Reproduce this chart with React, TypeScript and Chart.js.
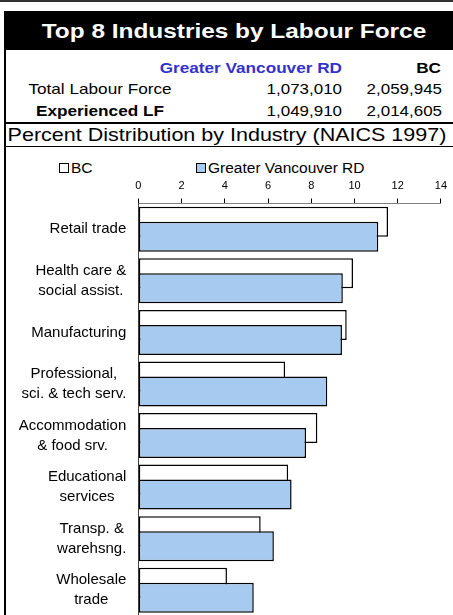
import React, { useEffect, useRef } from 'react';
import { Chart, registerables } from 'chart.js';

Chart.register(...registerables);

const FONT = '"Liberation Sans", Arial, Helvetica, sans-serif';

const titleText = 'Top 8 Industries by Labour Force';
const regionName = 'Greater Vancouver RD';
const provinceName = 'BC';
const rowLabels = ['Total Labour Force', 'Experienced LF'];
const rowBold = [false, true];
const regionTotals = ['1,073,010', '1,049,910'];
const provinceTotals = ['2,059,945', '2,014,605'];
const subtitleText = 'Percent Distribution by Industry (NAICS 1997)';

const categories: string[][] = [
  ['Retail trade'],
  ['Health care &', 'social assist.'],
  ['Manufacturing'],
  ['Professional,', 'sci. & tech serv.'],
  ['Accommodation', '& food srv.'],
  ['Educational', 'services'],
  ['Transp. &', 'warehsng.'],
  ['Wholesale', 'trade'],
];
const bcValues = [11.55, 9.93, 9.64, 6.79, 8.28, 6.93, 5.66, 4.1];
const gvValues = [11.1, 9.46, 9.42, 8.74, 7.76, 7.09, 6.27, 5.34];
const xMin = 0;
const xMax = 14;
const xStep = 2;

const BLUE = '#A6CAF0';

type TxtProps = {
  x: number;
  y: number;
  align: 'left' | 'center' | 'right';
  size: number;
  bold?: boolean;
  color?: string;
  sx?: number;
  children: React.ReactNode;
};

function Txt({ x, y, align, size, bold, color, sx = 1, children }: TxtProps) {
  const W = 600;
  const lh = Math.round(size * 1.4);
  let left = x;
  if (align === 'center') left = x - W / 2;
  if (align === 'right') left = x - W;
  return (
    <div
      style={{
        position: 'absolute',
        left,
        top: y - lh / 2,
        width: W,
        height: lh,
        lineHeight: lh + 'px',
        fontSize: size,
        fontWeight: bold ? 'bold' : 'normal',
        color: color || '#000',
        textAlign: align,
        whiteSpace: 'nowrap',
        transform: `scaleX(${sx})`,
        transformOrigin: align === 'center' ? 'center center' : align === 'right' ? 'right center' : 'left center',
      }}
    >
      {children}
    </div>
  );
}

const drawOrderPlugin = {
  id: 'drawOrder',
  beforeDatasetsDraw(chart: any) {
    const metas = chart.getSortedVisibleDatasetMetas();
    for (const m of metas) m.controller.draw();
    return false;
  },
};

const categoryLabelPlugin = {
  id: 'categoryLabels',
  afterDraw(chart: any) {
    const ctx = chart.ctx;
    const yScale = chart.scales.y;
    const left = chart.chartArea.left;
    ctx.save();
    ctx.font = `15px ${FONT}`;
    ctx.fillStyle = '#000';
    ctx.textBaseline = 'middle';
    ctx.textAlign = 'center';
    const lh = 20;
    (chart.data.labels as any[]).forEach((lab, i) => {
      const lines: string[] = Array.isArray(lab) ? lab : [lab];
      const w = Math.max(...lines.map((l) => ctx.measureText(l).width));
      const cx = left - 12 - w / 2;
      const cy = yScale.getPixelForValue(i);
      lines.forEach((l, j) => {
        ctx.fillText(l, cx, cy + (j - (lines.length - 1) / 2) * lh);
      });
    });
    ctx.restore();
  },
};

export default function App() {
  const canvasRef = useRef<HTMLCanvasElement | null>(null);

  useEffect(() => {
    if (!canvasRef.current) return;
    const chart = new Chart(canvasRef.current, {
      type: 'bar',
      data: {
        labels: categories,
        datasets: [
          {
            label: provinceName,
            data: bcValues,
            backgroundColor: '#FFFFFF',
            borderColor: '#000000',
            borderWidth: 1.5,
            borderSkipped: false,
            categoryPercentage: 0.582,
            barPercentage: 2,
          },
          {
            label: regionName,
            data: gvValues,
            backgroundColor: BLUE,
            borderColor: '#000000',
            borderWidth: 1.5,
            borderSkipped: false,
            categoryPercentage: 0.582,
            barPercentage: 2,
          },
        ],
      },
      options: {
        indexAxis: 'y',
        animation: false,
        responsive: false,
        maintainAspectRatio: false,
        layout: { padding: { left: 132.3, right: 9, top: 25.5, bottom: 4 } },
        plugins: {
          legend: { display: false },
          tooltip: { enabled: false },
        },
        scales: {
          x: {
            type: 'linear',
            position: 'top',
            min: xMin,
            max: xMax,
            ticks: {
              stepSize: xStep,
              padding: 5.9,
              color: '#000',
              font: { family: FONT, size: 11 },
            },
            grid: {
              drawOnChartArea: false,
              drawTicks: true,
              tickLength: 5,
              color: '#000',
            },
            border: { display: true, color: '#808080', width: 1 },
          },
          y: {
            type: 'category',
            offset: true,
            ticks: { display: false },
            grid: { display: false, drawTicks: false },
            border: { display: true, color: '#404040', width: 1 },
          },
        },
      },
      plugins: [drawOrderPlugin, categoryLabelPlugin],
    } as any);
    return () => chart.destroy();
  }, []);

  return (
    <div
      style={{
        position: 'absolute',
        left: 0,
        top: 0,
        width: 453,
        height: 615,
        overflow: 'hidden',
        background: '#fff',
        fontFamily: FONT,
      }}
    >
      {/* top rule */}
      <div style={{ position: 'absolute', left: 0, top: 0, width: 453, height: 2, background: '#333' }} />
      {/* left border */}
      <div style={{ position: 'absolute', left: 4, top: 11, width: 2, height: 620, background: '#000' }} />
      {/* header */}
      <div style={{ position: 'absolute', left: 4, top: 11, width: 470, height: 39, background: '#000' }} />
      <Txt x={233.5} y={30} align="center" size={20.5} bold color="#fff" sx={1.19}>
        {titleText}
      </Txt>
      {/* summary table */}
      <Txt x={342} y={67} align="right" size={15} bold color="#3333CC" sx={1.145}>
        {regionName}
      </Txt>
      <Txt x={441} y={67} align="right" size={15} bold sx={1.145}>
        {provinceName}
      </Txt>
      {rowLabels.map((lab, i) => (
        <React.Fragment key={lab}>
          <Txt x={100} y={88.5 + i * 21.5} align="center" size={15} bold={rowBold[i]} sx={1.145}>
            {lab}
          </Txt>
          <Txt x={342} y={88.5 + i * 21.5} align="right" size={15} sx={1.13}>
            {regionTotals[i]}
          </Txt>
          <Txt x={442} y={88.5 + i * 21.5} align="right" size={15} sx={1.13}>
            {provinceTotals[i]}
          </Txt>
        </React.Fragment>
      ))}
      <div style={{ position: 'absolute', left: 4, top: 122, width: 470, height: 2, background: '#000' }} />
      <Txt x={227} y={134.5} align="center" size={18.6} sx={1.157}>
        {subtitleText}
      </Txt>
      <div style={{ position: 'absolute', left: 4, top: 146, width: 470, height: 1, background: '#000' }} />
      {/* legend */}
      <div
        style={{
          position: 'absolute',
          left: 59,
          top: 163,
          width: 8,
          height: 8,
          border: '1px solid #000',
          background: '#fff',
        }}
      />
      <Txt x={71} y={167.5} align="left" size={15.5}>
        {provinceName}
      </Txt>
      <div
        style={{
          position: 'absolute',
          left: 196,
          top: 163,
          width: 8,
          height: 8,
          border: '1px solid #000',
          background: BLUE,
        }}
      />
      <Txt x={208} y={167.5} align="left" size={15.5}>
        {regionName}
      </Txt>
      <canvas
        ref={canvasRef}
        width={447}
        height={472}
        style={{ position: 'absolute', left: 6, top: 148, width: 447, height: 472 }}
      />
    </div>
  );
}
